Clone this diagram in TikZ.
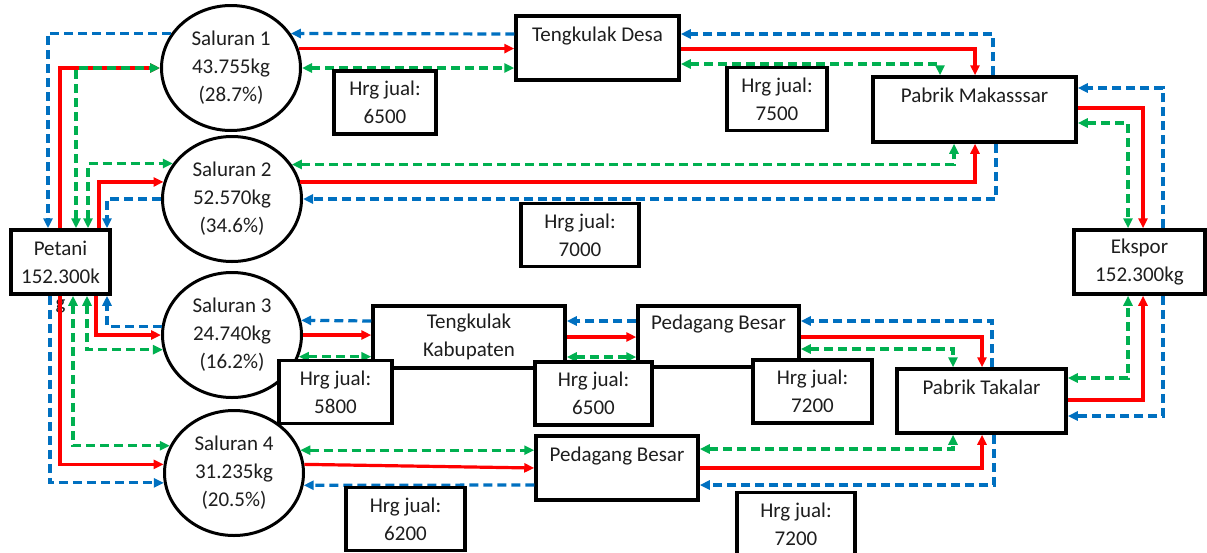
\documentclass[tikz,border=0pt]{standalone}
\usepackage{fontspec}
\setmainfont{Carlito}
\usetikzlibrary{arrows.meta,shapes.geometric}
\definecolor{merahc}{RGB}{255,0,0}
\definecolor{hijauc}{RGB}{0,176,80}
\definecolor{biruc}{RGB}{0,112,192}
\definecolor{teksc}{RGB}{30,30,30}

\begin{document}
\begin{tikzpicture}[x=1pt,y=-1pt,
  >={Triangle[length=10pt,width=9pt]},
  every node/.style={font=\fontsize{21}{28}\selectfont, align=center, inner sep=0pt, text=teksc},
  saluran/.style={draw, ellipse, line width=3pt, fill=white, minimum width=139pt, minimum height=125pt},
  kotak/.style={draw, rectangle, line width=3.5pt, fill=white},
  harga/.style={kotak, minimum width=#1, minimum height=63pt},
  merah/.style={color=merahc, line width=3.2pt, ->},
  biru/.style={color=biruc, line width=3.2pt, dash pattern=on 9pt off 5pt, ->},
  hijau/.style={color=hijauc, line width=3.2pt, dash pattern=on 9pt off 5pt, <->}]
\useasboundingbox (0,0) rectangle (1207,552);

\node[kotak, minimum width=99pt, minimum height=64pt, label={[yshift=-3pt]south:g}] (pet) at (60.5,262) {Petani\\152.300k};
\node[saluran] (s1) at (231,68) {Saluran 1\\43.755kg\\(28.7\%)};
\node[saluran] (s2) at (232,199) {Saluran 2\\52.570kg\\(34.6\%)};
\node[saluran] (s3) at (232,335) {Saluran 3\\24.740kg\\(16.2\%)};
\node[saluran] (s4) at (234,473) {Saluran 4\\31.235kg\\(20.5\%)};
\node[kotak, minimum width=163pt, minimum height=64pt] (td) at (597.5,48) {Tengkulak Desa\\\mbox{}};
\node[kotak, minimum width=203pt, minimum height=65pt] (pm) at (974.5,109.5) {Pabrik Makasssar\\\mbox{}};
\node[kotak, minimum width=131pt, minimum height=64pt] (eks) at (1139.5,262) {Ekspor\\152.300kg};
\node[kotak, minimum width=192pt, minimum height=62pt] (tk) at (469,337) {Tengkulak\\Kabupaten};
\node[kotak, minimum width=161pt, minimum height=61pt] (pb1) at (718.5,336.5) {Pedagang Besar\\\mbox{}};
\node[kotak, minimum width=169pt, minimum height=64pt] (pt) at (981.5,401) {Pabrik Takalar\\\mbox{}};
\node[kotak, minimum width=162pt, minimum height=64pt] (pb2) at (617,468) {Pedagang Besar\\\mbox{}};

\draw[biru] (s1.150) -| (pet.north -| 48,0);
\draw[merah] (pet.north -| 60,0) |- (s1.west);
\draw[hijau] (pet.north -| 76,0) |- (s1.west);
\draw[hijau] (pet.north -| 88,0) |- (s2.149);
\draw[merah] (pet.north -| 99,0) |- (s2.166);
\draw[biru] (s2.west) -| (pet.north -| 107,0);
\draw[biru] (pet.south -| 50,0) |- (s4.188);
\draw[merah] (pet.south -| 60,0) |- (s4.173);
\draw[hijau] (pet.south -| 73,0) |- (s4.157);
\draw[hijau] (pet.south -| 87,0) |- (s3.192);
\draw[merah] (pet.south -| 96,0) |- (s3.west);
\draw[biru] (s3.173) -| (pet.south -| 107,0);

\draw[biru] (td.west |- 0,34) -- (s1.30);
\draw[merah] (s1.16) -- (td.west |- s1.16);
\draw[hijau] (s1.east) -- (td.west |- s1.east);
\draw[biru] (pm.north -| 993,0) |- (td.east |- 0,34);
\draw[merah] (td.east |- 0,49) -| (pm.north -| 975,0);
\draw[hijau] (td.east |- 0,64) -| (pm.north -| 940,0);

\draw[hijau] (s2.30) -| (pm.south -| 954,0);
\draw[merah] (s2.14) -| (pm.south -| 975,0);
\draw[biru] (pm.south -| 996,0) |- (s2.east);

\draw[biru] (eks.north -| 1163,0) |- (pm.east |- 0,88);
\draw[merah] (pm.east |- 0,108) -| (eks.north -| 1143,0);
\draw[hijau] (pm.east |- 0,123) -| (eks.north -| 1128,0);

\draw[biru] (tk.west |- 0,321) -- (s3.12);
\draw[merah] (s3.east) -- (tk.west |- s3.east);
\draw[hijau] (s3.342) -- (tk.west |- s3.342);
\draw[biru] (pb1.west |- 0,321) -- (tk.east |- 0,321);
\draw[merah] (tk.east |- 0,337) -- (pb1.west |- 0,337);
\draw[hijau] (tk.east |- 0,357) -- (pb1.west |- 0,357);

\draw[biru] (pt.north -| 992,0) |- (pb1.east |- 0,321);
\draw[merah] (pb1.east |- 0,337) -| (pt.north -| 982,0);
\draw[hijau] (pb1.east |- 0,349) -| (pt.north -| 953,0);
\draw[hijau] (pb2.east |- 0,449) -| (pt.south -| 953,0);
\draw[merah] (pb2.east |- 0,468) -| (pt.south -| 982,0);
\draw[biru] (pt.south -| 994,0) |- (pb2.east |- 0,485);

\draw[hijau] (s4.19) -- (pb2.west |- s4.19);
\draw[merah] (s4.7) -- (pb2.west |- 0,468);
\draw[biru] (pb2.west |- 0,485) -- (s4.350);

\draw[hijau] (pt.east |- 0,378) -| (eks.south -| 1128,0);
\draw[merah] (pt.east |- 0,400) -| (eks.south -| 1143,0);
\draw[biru] (eks.south -| 1163,0) |- (pt.east |- 0,416);

\node[harga=102pt] (h1) at (385,102.5) {Hrg jual:\\6500};
\node[harga=100pt] (h2) at (777,99) {Hrg jual:\\7500};
\node[harga=118pt] (h3) at (580,235) {Hrg jual:\\7000};
\node[harga=113pt] (h4) at (335.5,392) {Hrg jual:\\5800};
\node[harga=117pt] (h5) at (593.5,393.5) {Hrg jual:\\6500};
\node[harga=119pt] (h6) at (812.5,391.5) {Hrg jual:\\7200};
\node[harga=119pt] (h7) at (405.5,519) {Hrg jual:\\6200};
\node[harga=118pt] (h8) at (796,524) {Hrg jual:\\7200};
\end{tikzpicture}
\end{document}
